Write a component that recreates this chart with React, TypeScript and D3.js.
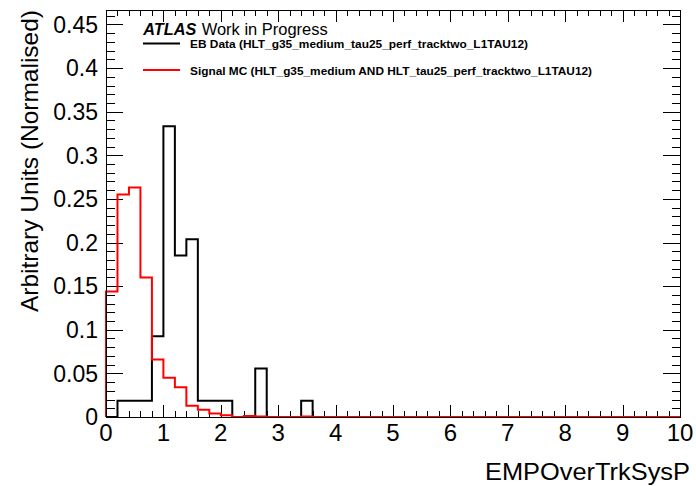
import React from "react";
import * as d3 from "d3";

const binWidth = 0.2;
const nBins = 50;

const ebData = [
  0, 0.0185, 0.0185, 0.0185, 0.0926, 0.3333, 0.1852, 0.2037, 0.0185, 0.0185,
  0.0185, 0, 0, 0.0556, 0, 0, 0, 0.0185, 0, 0,
  0, 0, 0, 0, 0, 0, 0, 0, 0, 0,
  0, 0, 0, 0, 0, 0, 0, 0, 0, 0,
  0, 0, 0, 0, 0, 0, 0, 0, 0, 0,
];

const signalMC = [
  0.144, 0.255, 0.263, 0.16, 0.066, 0.045, 0.034, 0.013, 0.0084, 0.004,
  0.002, 0, 0.0012, 0.0006, 0, 0, 0, 0.0006, 0, 0,
  0, 0, 0, 0, 0, 0, 0, 0, 0, 0,
  0, 0, 0, 0, 0, 0, 0, 0, 0, 0,
  0, 0, 0, 0, 0, 0, 0, 0, 0, 0,
];

const xTickLabels = [0, 1, 2, 3, 4, 5, 6, 7, 8, 9, 10];
const yTickLabels = [0, 0.05, 0.1, 0.15, 0.2, 0.25, 0.3, 0.35, 0.4, 0.45];

const xMax = 10;
const yMax = 0.3333 * 1.4;

const FONT = "'Liberation Sans', Arial, Helvetica, sans-serif";

const L = 106, R = 680, T = 10, B = 417;

export default function App() {
  const x = d3.scaleLinear().domain([0, xMax]).range([L, R]);
  const y = d3.scaleLinear().domain([0, yMax]).range([B, T]);

  const stepPath = (vals: number[]) => {
    const pts: [number, number][] = [[x(0), y(0)]];
    vals.forEach((v, i) => {
      pts.push([x(i * binWidth), y(v)]);
      pts.push([x((i + 1) * binWidth), y(v)]);
    });
    pts.push([x(nBins * binWidth), y(0)]);
    return d3.line()(pts) as string;
  };

  const xMinor = d3.ticks(0, xMax, 50);
  const yMinor = d3.ticks(0, yMax, 46);
  const fmt = d3.format(".2~f");
  const px = (v: number) => Math.round(v) + 0.5;

  return (
    <svg
      width={696}
      height={486}
      style={{ position: "absolute", left: 0, top: 0, background: "#fff" }}
      fontFamily={FONT}
    >
      <rect x={0} y={0} width={696} height={486} fill="#fff" />
      {/* ticks */}
      <g stroke="#000" strokeWidth={1} shapeRendering="crispEdges">
        {xMinor.map((t) => {
          const major = xTickLabels.includes(Math.round(t * 100) / 100);
          const len = major ? 12 : 6;
          return (
            <g key={"xt" + t}>
              <line x1={px(x(t))} x2={px(x(t))} y1={B} y2={B - len} />
              <line x1={px(x(t))} x2={px(x(t))} y1={T} y2={T + len} />
            </g>
          );
        })}
        {yMinor.map((t) => {
          const major = yTickLabels.some((v) => Math.abs(v - t) < 1e-6);
          const len = major ? 17 : 8.5;
          return (
            <g key={"yt" + t}>
              <line x1={L} x2={L + len} y1={px(y(t))} y2={px(y(t))} />
              <line x1={R} x2={R - len} y1={px(y(t))} y2={px(y(t))} />
            </g>
          );
        })}
      </g>

      {/* histograms */}
      <path d={stepPath(ebData)} fill="none" stroke="#000" strokeWidth={2} />
      <path d={stepPath(signalMC)} fill="none" stroke="#ff0000" strokeWidth={2} />

      {/* frame */}
      <rect
        x={L + 0.5}
        y={T + 0.5}
        width={R - L}
        height={B - T}
        fill="none"
        stroke="#000"
        strokeWidth={1}
        shapeRendering="crispEdges"
      />

      {/* tick labels */}
      <g fontSize={23} fill="#000">
        {yTickLabels.map((v) => (
          <text key={"yl" + v} x={98} y={y(v) + 8.3} textAnchor="end">
            {fmt(v)}
          </text>
        ))}
        {xTickLabels.map((v) => (
          <text key={"xl" + v} x={x(v)} y={441} textAnchor="middle" fontSize={24}>
            {v}
          </text>
        ))}
      </g>

      {/* axis titles */}
      <text
        transform={`translate(38,10) rotate(-90)`}
        textAnchor="end"
        fontSize={24}
        textLength={302}
        lengthAdjust="spacingAndGlyphs"
      >
        Arbitrary Units (Normalised)
      </text>
      <text
        x={690}
        y={480}
        textAnchor="end"
        fontSize={24}
        textLength={205}
        lengthAdjust="spacingAndGlyphs"
      >
        EMPOverTrkSysP
      </text>

      {/* legend */}
      <text x={143.3} y={34.7} fontSize={16} fontWeight="bold" fontStyle="italic" textLength={53} lengthAdjust="spacingAndGlyphs">
        ATLAS
      </text>
      <text x={201.7} y={34.7} fontSize={16} textLength={126} lengthAdjust="spacingAndGlyphs">
        Work in Progress
      </text>
      <line x1={143} x2={180} y1={43.5} y2={43.5} stroke="#000" strokeWidth={2} />
      <text x={190} y={48} fontSize={11} fontWeight="bold" textLength={338} lengthAdjust="spacingAndGlyphs">
        EB Data (HLT_g35_medium_tau25_perf_tracktwo_L1TAU12)
      </text>
      <line x1={143} x2={180} y1={70} y2={70} stroke="#ff0000" strokeWidth={2} />
      <text x={190} y={75} fontSize={11} fontWeight="bold" textLength={402} lengthAdjust="spacingAndGlyphs">
        Signal MC (HLT_g35_medium AND HLT_tau25_perf_tracktwo_L1TAU12)
      </text>
    </svg>
  );
}
